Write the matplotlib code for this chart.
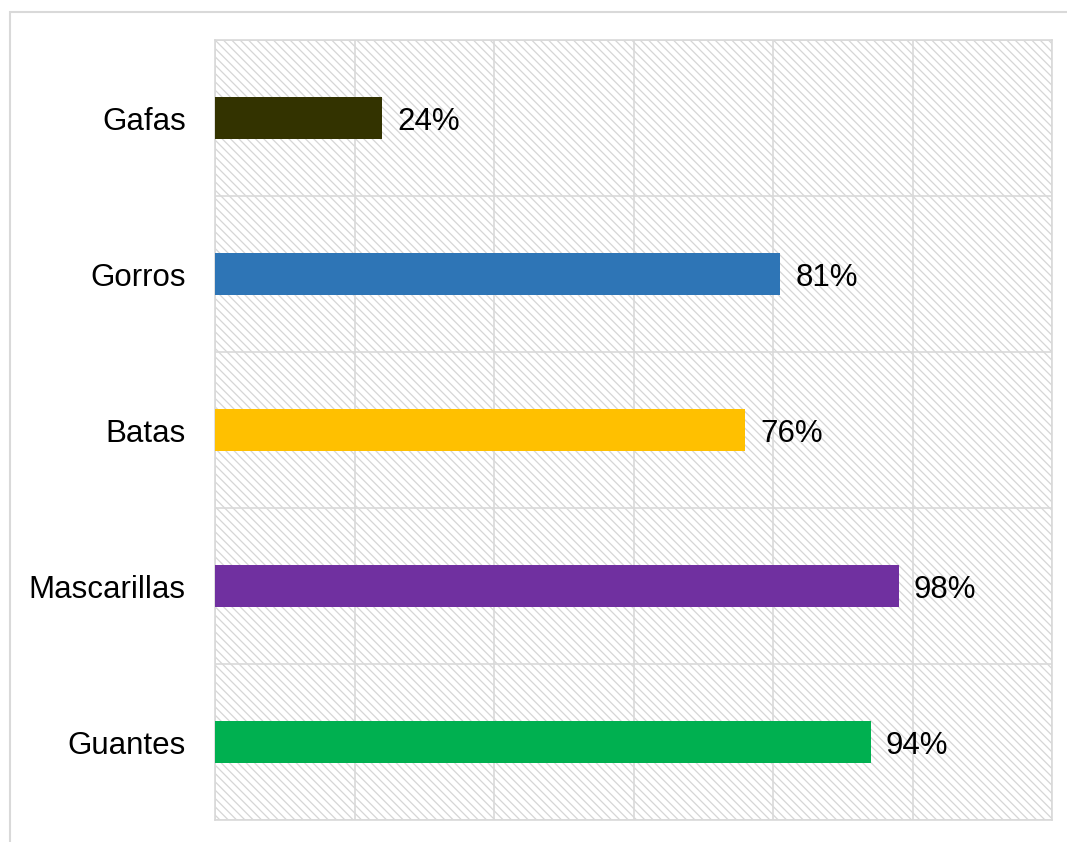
import matplotlib.pyplot as plt
from matplotlib.patches import Rectangle

categories = ['Guantes', 'Mascarillas', 'Batas', 'Gorros', 'Gafas']
values = [94, 98, 76, 81, 24]
colors = ['#00b050', '#7030a0', '#ffc000', '#2e75b6', '#333300']

plt.rcParams['font.family'] = ['Liberation Sans', 'DejaVu Sans']
plt.rcParams['hatch.color'] = '#d6d6d6'
plt.rcParams['hatch.linewidth'] = 0.9

fig = plt.figure(figsize=(10.67, 8.42), dpi=100)
ax = fig.add_axes([215 / 1067, 1 - 820 / 842, (1052 - 215) / 1067, 780 / 842])

# outer frame of the chart area
fig.patches.append(Rectangle((10 / 1067, -0.1), 1.2, 1 - 12 / 842 + 0.1,
                             transform=fig.transFigure, fill=False,
                             edgecolor='#d9d9d9', linewidth=1.5, zorder=0))

ax.patch.set_facecolor('white')
ax.patch.set_hatch('\\\\\\\\')
ax.patch.set_edgecolor('#d6d6d6')

y = range(len(categories))
ax.barh(y, values, height=0.27, color=colors, zorder=3)
for i, v in enumerate(values):
    ax.text(v + 2.2, i, f'{v}%', va='center_baseline', ha='left', fontsize=22.5,
            color='#000000', zorder=4)

ax.set_xlim(0, 120)
ax.set_ylim(-0.5, len(categories) - 0.5)
ax.set_xticks(range(0, 121, 20))
ax.set_yticks([i + 0.5 for i in range(-1, len(categories))], minor=False)
ax.set_yticks(list(y), minor=True)
ax.set_yticklabels([''] * (len(categories) + 1))
ax.set_yticklabels(categories, minor=True, fontsize=22.5, va='center_baseline')
ax.set_xticklabels([])
ax.tick_params(axis='both', which='both', length=0)
ax.tick_params(axis='y', which='minor', pad=21)
ax.grid(True, which='major', color='#d9d9d9', linewidth=1.2, zorder=1)
ax.set_axisbelow(True)
for s in ax.spines.values():
    s.set_color('#d9d9d9')
    s.set_linewidth(1.2)

fig.savefig('out.png', dpi=100)
